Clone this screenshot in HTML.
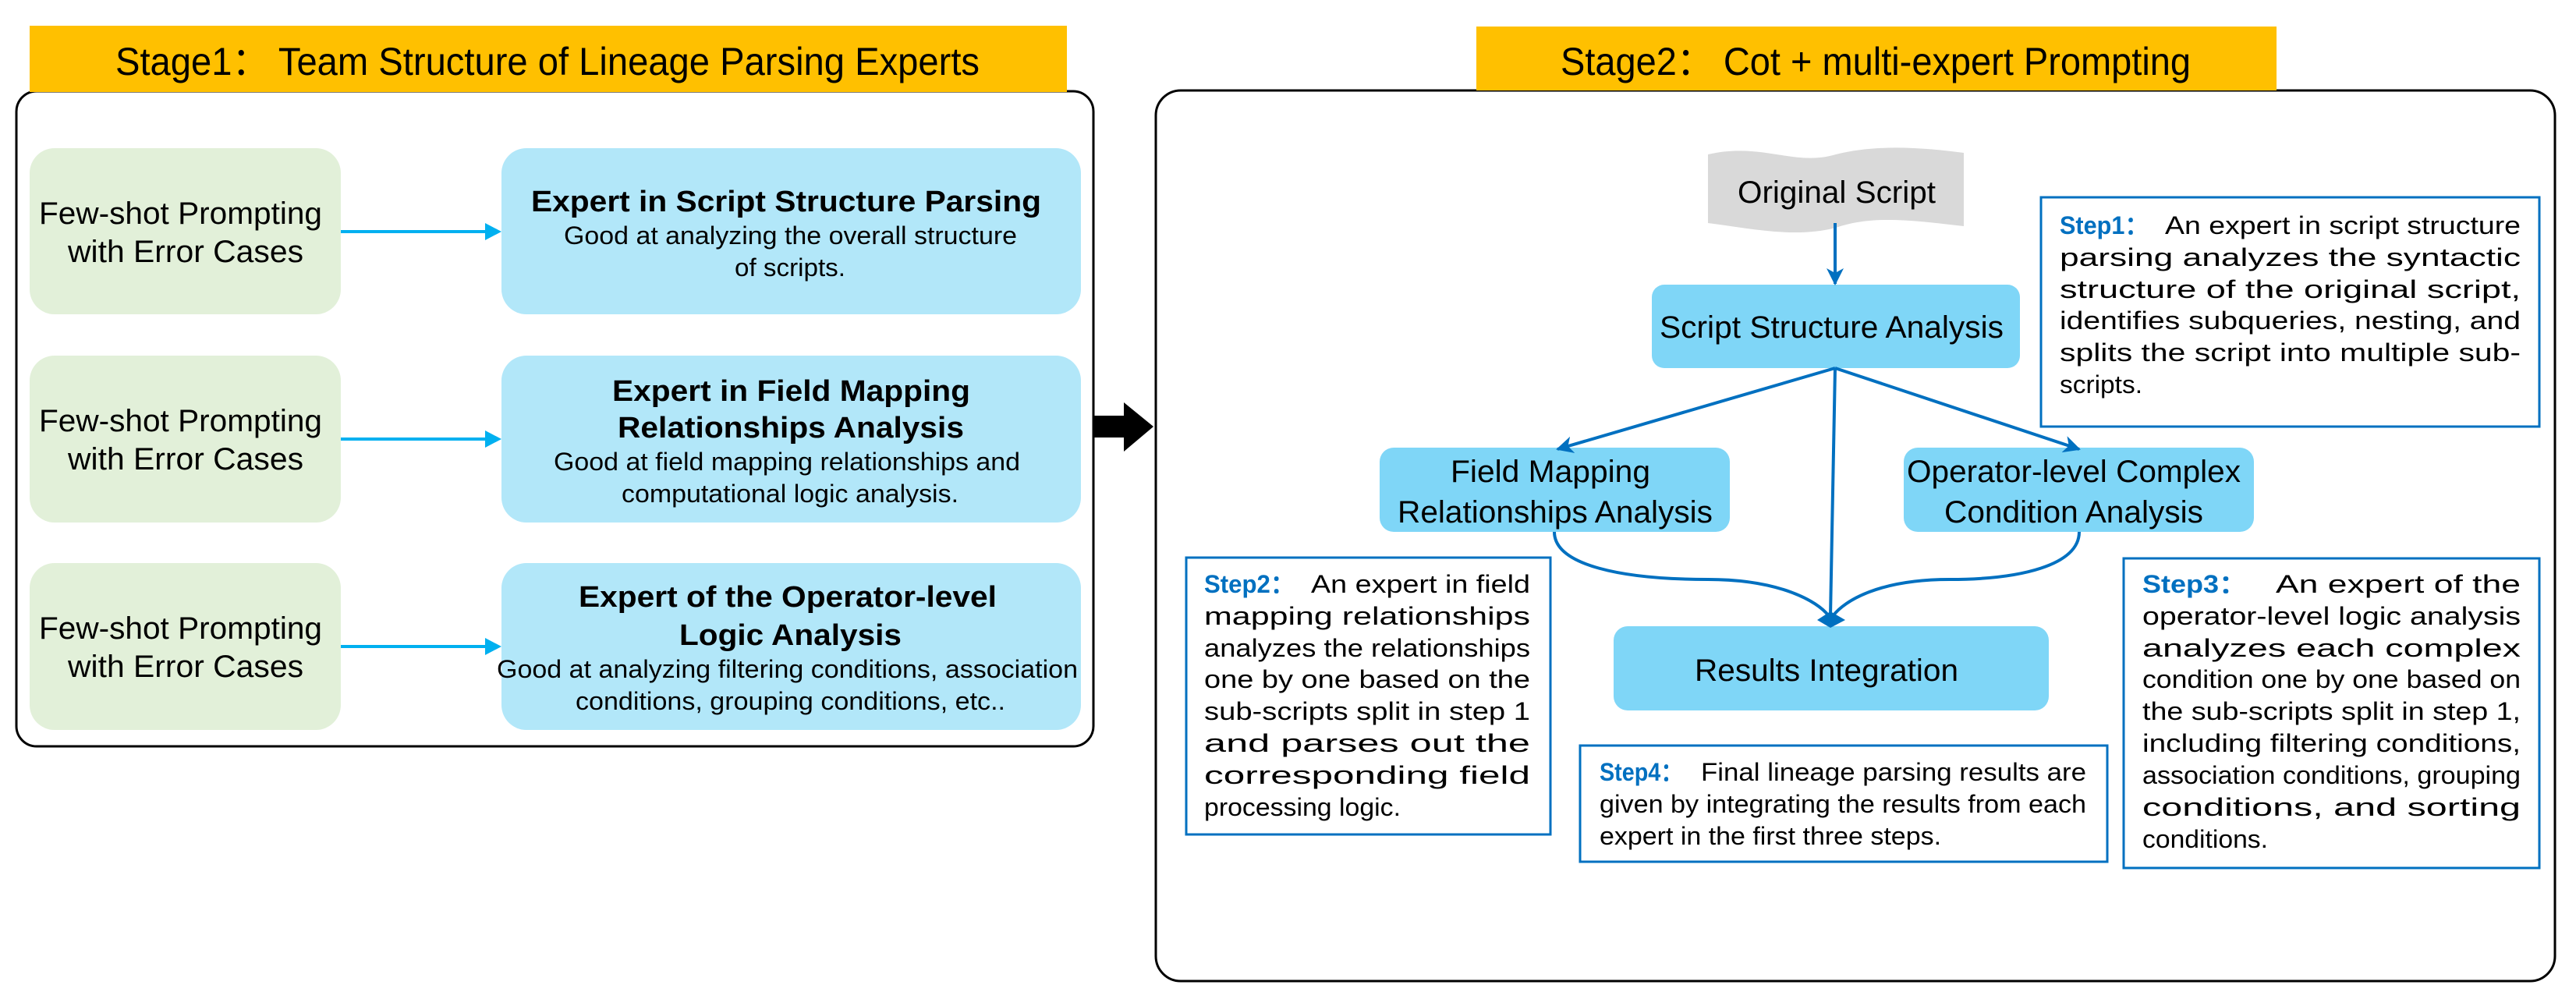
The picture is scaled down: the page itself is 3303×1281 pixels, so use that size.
<!DOCTYPE html>
<html><head><meta charset="utf-8"><style>html,body{margin:0;padding:0;background:#fff}svg{display:block}text{font-family:"Liberation Sans",Arial,sans-serif}</style></head><body>
<svg width="3303" height="1281" viewBox="0 0 3303 1281" xmlns="http://www.w3.org/2000/svg">
<defs>
<marker id="ad" markerWidth="22" markerHeight="22" refX="20" refY="11" orient="auto" markerUnits="userSpaceOnUse" viewBox="0 0 22 22"><path d="M0,0 L22,11 L0,22 L6,11 Z" fill="#0070C0"/></marker>
</defs>
<rect x="21" y="117" width="1381" height="840" rx="26" fill="#fff" stroke="#000" stroke-width="3"/>
<rect x="38" y="33" width="1330" height="85" fill="#FFC000"/>
<text x="148" y="96" font-size="50" textLength="1108" lengthAdjust="spacingAndGlyphs">Stage1： Team Structure of Lineage Parsing Experts</text>

<g font-size="40">
<rect x="38" y="190" width="399" height="213" rx="32" fill="#E2F0D9"/>
<rect x="38" y="456" width="399" height="214" rx="32" fill="#E2F0D9"/>
<rect x="38" y="722" width="399" height="214" rx="32" fill="#E2F0D9"/>
<text x="50" y="287" textLength="363" lengthAdjust="spacingAndGlyphs">Few-shot Prompting</text>
<text x="87" y="336" textLength="302" lengthAdjust="spacingAndGlyphs">with Error Cases</text>
<text x="50" y="553" textLength="363" lengthAdjust="spacingAndGlyphs">Few-shot Prompting</text>
<text x="87" y="602" textLength="302" lengthAdjust="spacingAndGlyphs">with Error Cases</text>
<text x="50" y="819" textLength="363" lengthAdjust="spacingAndGlyphs">Few-shot Prompting</text>
<text x="87" y="868" textLength="302" lengthAdjust="spacingAndGlyphs">with Error Cases</text>
</g>
<g stroke="#00B0F0" stroke-width="4">
<line x1="437" y1="297" x2="630" y2="297"/><line x1="437" y1="563" x2="630" y2="563"/><line x1="437" y1="829" x2="630" y2="829"/>
</g>
<g fill="#00B0F0">
<path d="M622,286 L643,297 L622,308 Z"/><path d="M622,552 L643,563 L622,574 Z"/><path d="M622,818 L643,829 L622,840 Z"/>
</g>
<g fill="#B2E7F9">
<rect x="643" y="190" width="743" height="213" rx="32"/>
<rect x="643" y="456" width="743" height="214" rx="32"/>
<rect x="643" y="722" width="743" height="214" rx="32"/>
</g>
<g font-size="38" font-weight="bold">
<text x="681" y="271" textLength="654" lengthAdjust="spacingAndGlyphs">Expert in Script Structure Parsing</text>
<text x="785" y="514" textLength="459" lengthAdjust="spacingAndGlyphs">Expert in Field Mapping</text>
<text x="792" y="561" textLength="444" lengthAdjust="spacingAndGlyphs">Relationships Analysis</text>
<text x="742" y="778" textLength="536" lengthAdjust="spacingAndGlyphs">Expert of the Operator-level</text>
<text x="871" y="827" textLength="285" lengthAdjust="spacingAndGlyphs">Logic Analysis</text>
</g>
<g font-size="32">
<text x="723" y="313" textLength="581" lengthAdjust="spacingAndGlyphs">Good at analyzing the overall structure</text>
<text x="942" y="354" textLength="142" lengthAdjust="spacingAndGlyphs">of scripts.</text>
<text x="710" y="603" textLength="598" lengthAdjust="spacingAndGlyphs">Good at field mapping relationships and</text>
<text x="797" y="644" textLength="432" lengthAdjust="spacingAndGlyphs">computational logic analysis.</text>
<text x="637" y="869" textLength="745" lengthAdjust="spacingAndGlyphs">Good at analyzing filtering conditions, association</text>
<text x="738" y="910" textLength="551" lengthAdjust="spacingAndGlyphs">conditions, grouping conditions, etc..</text>
</g>
<path d="M1402,533 L1441,533 L1441,516 L1479,547 L1441,579 L1441,561 L1402,561 Z" fill="#000"/>

<rect x="1482" y="116" width="1794" height="1142" rx="32" fill="#fff" stroke="#000" stroke-width="3"/>
<rect x="1893" y="34" width="1026" height="82" fill="#FFC000"/>
<text x="2001" y="96" font-size="50" textLength="808" lengthAdjust="spacingAndGlyphs">Stage2： Cot + multi-expert Prompting</text>

<path d="M2190,198 C2260,182 2300,214 2354,198 C2410,184 2470,190 2518,196 L2518,290 C2450,282 2400,276 2354,292 C2300,306 2240,292 2190,286 Z" fill="#D9D9D9"/>
<text x="2228" y="260" font-size="40" textLength="254" lengthAdjust="spacingAndGlyphs">Original Script</text>

<g fill="#7FD6F7">
<rect x="2118" y="365" width="472" height="107" rx="16"/>
<rect x="1769" y="574" width="449" height="108" rx="18"/>
<rect x="2441" y="574" width="449" height="108" rx="18"/>
<rect x="2069" y="803" width="558" height="108" rx="18"/>
</g>
<g font-size="40">
<text x="2128" y="433" textLength="441" lengthAdjust="spacingAndGlyphs">Script Structure Analysis</text>
<text x="1860" y="618" textLength="256" lengthAdjust="spacingAndGlyphs">Field Mapping</text>
<text x="1792" y="670" textLength="404" lengthAdjust="spacingAndGlyphs">Relationships Analysis</text>
<text x="2445" y="618" textLength="428" lengthAdjust="spacingAndGlyphs">Operator-level Complex</text>
<text x="2493" y="670" textLength="332" lengthAdjust="spacingAndGlyphs">Condition Analysis</text>
<text x="2173" y="873" textLength="338" lengthAdjust="spacingAndGlyphs">Results Integration</text>
</g>
<g stroke="#0070C0" stroke-width="4" fill="none">
<line x1="2353" y1="286" x2="2353" y2="364" marker-end="url(#ad)"/>
<line x1="2353" y1="472" x2="1997" y2="576" marker-end="url(#ad)"/>
<line x1="2353" y1="472" x2="2666" y2="576" marker-end="url(#ad)"/>
<line x1="2353" y1="472" x2="2347" y2="790"/>
<path d="M1993,682 C1993,725 2080,743 2190,743 C2280,743 2330,770 2345,790"/>
<path d="M2666,682 C2666,725 2590,743 2500,743 C2410,743 2365,770 2350,790"/>
</g>
<path d="M2347,784 L2366,795 L2347,805 L2330,795 Z" fill="#0070C0"/>

<g fill="none" stroke="#0070C0" stroke-width="3">
<rect x="2617" y="253" width="639" height="294"/>
<rect x="1521" y="715" width="467" height="355"/>
<rect x="2723" y="716" width="533" height="397"/>
<rect x="2026" y="956" width="676" height="149"/>
</g>
<g font-size="32">
<text x="2641" y="300" fill="#0070C0" font-weight="bold" textLength="114" lengthAdjust="spacingAndGlyphs">Step1：</text>
<text x="2776" y="300" textLength="456" lengthAdjust="spacingAndGlyphs">An expert in script structure</text>
<text x="2641" y="341" textLength="591" lengthAdjust="spacingAndGlyphs">parsing analyzes the syntactic</text>
<text x="2641" y="382" textLength="591" lengthAdjust="spacingAndGlyphs">structure of the original script,</text>
<text x="2641" y="422" textLength="591" lengthAdjust="spacingAndGlyphs">identifies subqueries, nesting, and</text>
<text x="2641" y="463" textLength="591" lengthAdjust="spacingAndGlyphs">splits the script into multiple sub-</text>
<text x="2641" y="504" textLength="106" lengthAdjust="spacingAndGlyphs">scripts.</text>

<text x="1544" y="760" fill="#0070C0" font-weight="bold" textLength="116" lengthAdjust="spacingAndGlyphs">Step2：</text>
<text x="1681" y="760" textLength="281" lengthAdjust="spacingAndGlyphs">An expert in field</text>
<text x="1544" y="801" textLength="418" lengthAdjust="spacingAndGlyphs">mapping relationships</text>
<text x="1544" y="842" textLength="418" lengthAdjust="spacingAndGlyphs">analyzes the relationships</text>
<text x="1544" y="882" textLength="418" lengthAdjust="spacingAndGlyphs">one by one based on the</text>
<text x="1544" y="923" textLength="418" lengthAdjust="spacingAndGlyphs">sub-scripts split in step 1</text>
<text x="1544" y="964" textLength="418" lengthAdjust="spacingAndGlyphs">and parses out the</text>
<text x="1544" y="1005" textLength="418" lengthAdjust="spacingAndGlyphs">corresponding field</text>
<text x="1544" y="1046" textLength="252" lengthAdjust="spacingAndGlyphs">processing logic.</text>

<text x="2747" y="760" fill="#0070C0" font-weight="bold" textLength="134" lengthAdjust="spacingAndGlyphs">Step3：</text>
<text x="2918" y="760" textLength="314" lengthAdjust="spacingAndGlyphs">An expert of the</text>
<text x="2747" y="801" textLength="485" lengthAdjust="spacingAndGlyphs">operator-level logic analysis</text>
<text x="2747" y="842" textLength="485" lengthAdjust="spacingAndGlyphs">analyzes each complex</text>
<text x="2747" y="882" textLength="485" lengthAdjust="spacingAndGlyphs">condition one by one based on</text>
<text x="2747" y="923" textLength="485" lengthAdjust="spacingAndGlyphs">the sub-scripts split in step 1,</text>
<text x="2747" y="964" textLength="485" lengthAdjust="spacingAndGlyphs">including filtering conditions,</text>
<text x="2747" y="1005" textLength="485" lengthAdjust="spacingAndGlyphs">association conditions, grouping</text>
<text x="2747" y="1046" textLength="485" lengthAdjust="spacingAndGlyphs">conditions, and sorting</text>
<text x="2747" y="1087" textLength="161" lengthAdjust="spacingAndGlyphs">conditions.</text>

<text x="2051" y="1001" fill="#0070C0" font-weight="bold" textLength="107" lengthAdjust="spacingAndGlyphs">Step4：</text>
<text x="2181" y="1001" textLength="494" lengthAdjust="spacingAndGlyphs">Final lineage parsing results are</text>
<text x="2051" y="1042" textLength="624" lengthAdjust="spacingAndGlyphs">given by integrating the results from each</text>
<text x="2051" y="1083" textLength="438" lengthAdjust="spacingAndGlyphs">expert in the first three steps.</text>
</g>
</svg>
</body></html>
